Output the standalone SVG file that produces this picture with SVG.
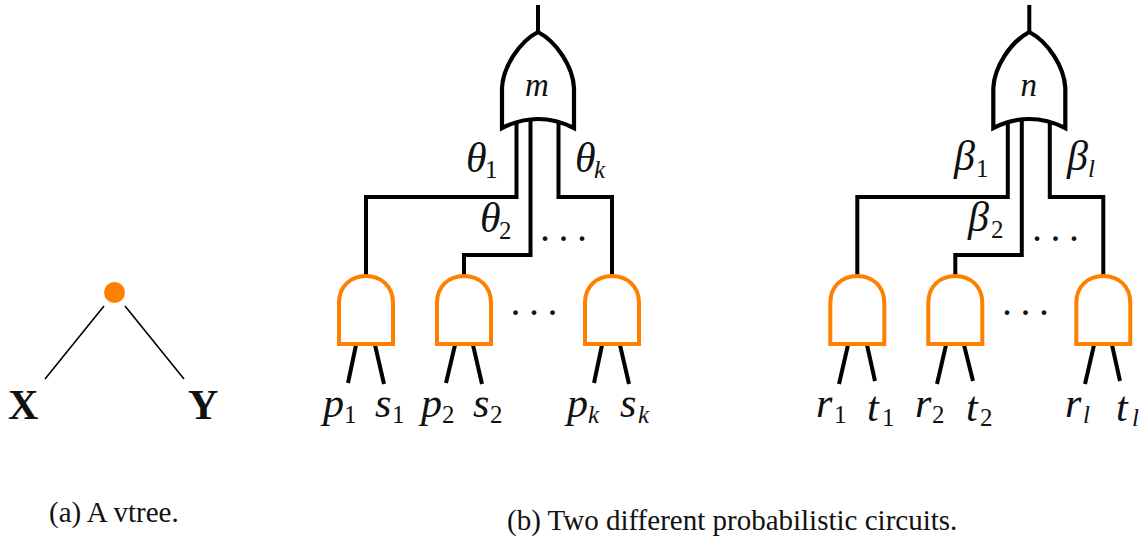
<svg xmlns="http://www.w3.org/2000/svg" width="1143" height="539" viewBox="0 0 1143 539">
<style>
text{font-family:"Liberation Serif","DejaVu Serif",serif;fill:#111}
.m{font-style:italic;font-size:42px}
.s{font-size:25px}
.si{font-size:25px;font-style:italic}
.n{font-style:italic;font-size:33px}
.d{font-size:40px;letter-spacing:8.500px}
.c{font-size:29px}
.b{font-weight:bold;font-size:42px}
.w{fill:none;stroke:#000;stroke-width:4}
.t{fill:none;stroke:#000;stroke-width:1.6}
.or{fill:none;stroke:#000;stroke-width:4.2;stroke-linejoin:miter}
.and{fill:none;stroke:#ff8000;stroke-width:4;stroke-linejoin:miter}
</style>
<defs>
<path id="orShape" class="or" d="M0 32C19 42 35 67 36 88V128C12 116 -12 116 -36 128V88C-35 67 -19 42 0 32Z"/>
<path id="andShape" class="and" d="M-27 344V303C-27 286 -15 276 0 276C15 276 27 286 27 303V344Z"/>
</defs>
<g id="connectors">
<path class="t" d="M104 306L45 379M125 306L184 379"/>
<g id="wires-left">
<path class="w" d="M538 5V32M516.500 122V197H366V276M530.500 119V255H464V276M558.500 122V197H612V276"/>
<path class="w" d="M356 345L348 383M375 345L384 384M455 345L446 383M473 345L482 384M602 345L594 383M620 345L629 384"/>
</g>
<g id="wires-right">
<path class="w" d="M1029.300 5V32M1007.800 122V197H857.300V276M1021.800 119V255H955.300V276M1049.800 122V197H1103.300V276"/>
<path class="w" d="M848 345L839 384M867 345L875 381M946 345L937 384M964 345L973 381M1094 345L1085 384M1112 345L1120 381"/>
</g>
</g>
<g id="vtree-root"><circle cx="114.500" cy="292.500" r="10.500" fill="#ff8000"/></g>
<g id="vtree-x"><text class="b" x="8" y="419">X</text></g>
<g id="vtree-y"><text class="b" x="188" y="419">Y</text></g>

<g id="or-m"><use href="#orShape" x="538"/><text class="n" x="525" y="96">m</text></g>
<g id="or-n"><use href="#orShape" x="1029.300"/><text class="n" x="1020.500" y="96">n</text></g>

<g id="and-1"><use href="#andShape" x="366"/></g>
<g id="and-2"><use href="#andShape" x="464"/></g>
<g id="and-3"><use href="#andShape" x="612"/></g>
<g id="and-4"><use href="#andShape" x="857.300"/></g>
<g id="and-5"><use href="#andShape" x="955.300"/></g>
<g id="and-6"><use href="#andShape" x="1103.300"/></g>

<g id="labels-left">
<text class="m" x="466" y="172">θ</text><text class="s" x="485" y="178">1</text>
<text class="m" x="575" y="172">θ</text><text class="si" x="594" y="178">k</text>
<text class="m" x="480" y="232">θ</text><text class="s" x="499" y="239">2</text>
<text class="d" x="540" y="241">...</text>
<text class="d" x="510.500" y="314.500">...</text>
<text class="m" x="323" y="417">p</text><text class="s" x="344" y="423">1</text>
<text class="m" x="375" y="417">s</text><text class="s" x="392" y="423">1</text>
<text class="m" x="421" y="417">p</text><text class="s" x="442" y="423">2</text>
<text class="m" x="473" y="417">s</text><text class="s" x="490" y="423">2</text>
<text class="m" x="567" y="417">p</text><text class="si" x="588" y="423">k</text>
<text class="m" x="620" y="417">s</text><text class="si" x="638" y="423">k</text>
</g>
<g id="labels-right">
<text class="m" x="954" y="170">β</text><text class="s" x="976" y="177">1</text>
<text class="m" x="1067" y="170">β</text><text class="si" x="1088" y="177">l</text>
<text class="m" x="968" y="231">β</text><text class="s" x="991" y="238">2</text>
<text class="d" x="1032" y="241">...</text>
<text class="d" x="1002" y="314.500">...</text>
<text class="m" x="816" y="417">r</text><text class="s" x="834" y="423">1</text>
<text class="m" x="867" y="421">t</text><text class="s" x="882" y="426">1</text>
<text class="m" x="915" y="417">r</text><text class="s" x="932" y="423">2</text>
<text class="m" x="966" y="421">t</text><text class="s" x="980" y="426">2</text>
<text class="m" x="1065" y="417">r</text><text class="si" x="1083" y="423">l</text>
<text class="m" x="1116" y="421">t</text><text class="si" x="1132" y="426">l</text>
</g>
<g id="captions">
<text class="c" x="49" y="522">(a) A vtree.</text>
<text class="c" x="507" y="530">(b) Two different probabilistic circuits.</text>
</g>
</svg>
